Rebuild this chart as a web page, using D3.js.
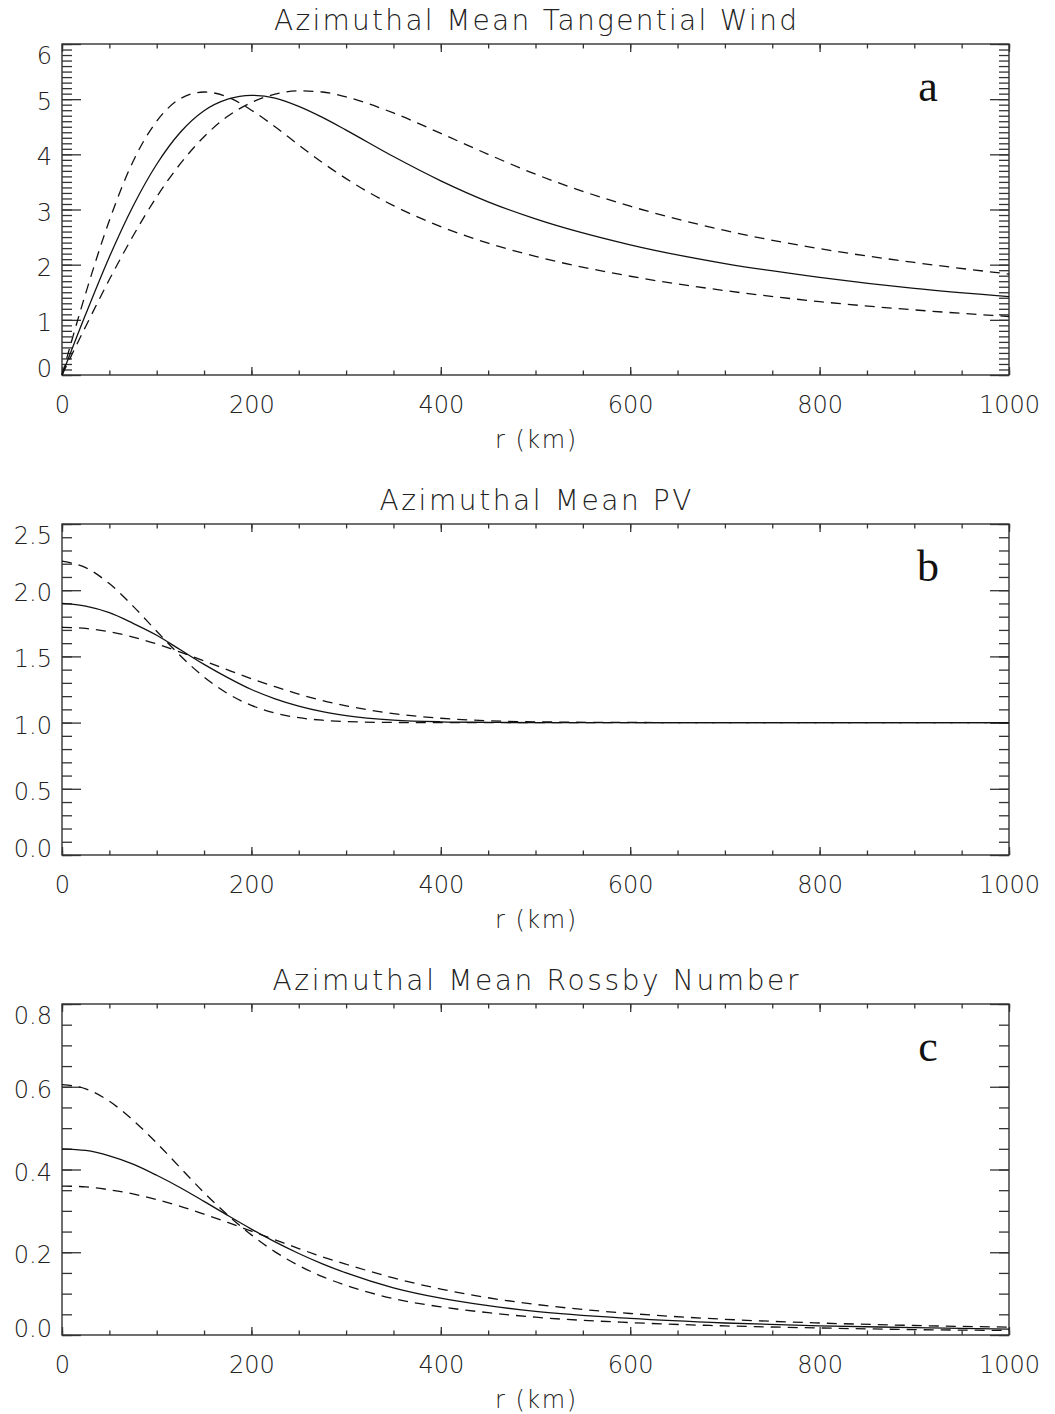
<!DOCTYPE html>
<html>
<head>
<meta charset="utf-8">
<script src="https://cdn.jsdelivr.net/npm/d3@7"></script>
<style>
  body { margin: 0; background: #fff; }
  svg { display: block; }
  .tick text { font-family: 'DejaVu Sans', sans-serif; font-weight: 200; font-size: 24px; fill: #222; }
  .title, .xlabel { font-family: 'DejaVu Sans', sans-serif; font-weight: 200; fill: #222; }
  .letter { font-family: 'Liberation Serif', serif; font-size: 44px; fill: #111; }
</style>
</head>
<body>
<svg id="chart" width="1055" height="1414"></svg>
<script>
const rKm = [0, 25, 50, 75, 100, 125, 150, 175, 200, 225, 250, 275, 300, 350, 400, 450, 500, 600, 700, 800, 900, 1000];

// panel a: azimuthal mean tangential wind
const windSolid = [0, 1.10, 2.14, 3.06, 3.82, 4.40, 4.79, 5.00, 5.07, 5.02, 4.87, 4.67, 4.44, 3.96, 3.52, 3.14, 2.83, 2.36, 2.02, 1.77, 1.57, 1.42];
const windNarrow = [0, 1.48, 2.80, 3.87, 4.60, 5.01, 5.13, 5.04, 4.80, 4.50, 4.17, 3.85, 3.56, 3.07, 2.69, 2.39, 2.15, 1.79, 1.53, 1.33, 1.18, 1.06];
const windWide = [0, 0.88, 1.73, 2.52, 3.23, 3.83, 4.32, 4.69, 4.94, 5.09, 5.15, 5.13, 5.04, 4.75, 4.38, 4.00, 3.64, 3.06, 2.62, 2.29, 2.04, 1.83];

// panel b: azimuthal mean PV
const pvSolid = [1.90, 1.88, 1.83, 1.75, 1.66, 1.55, 1.44, 1.34, 1.25, 1.18, 1.125, 1.083, 1.053, 1.019, 1.006, 1.002, 1.0, 1.0, 1.0, 1.0, 1.0, 1.0];
const pvNarrow = [2.22, 2.17, 2.05, 1.88, 1.69, 1.505, 1.344, 1.219, 1.13, 1.072, 1.037, 1.018, 1.008, 1.001, 1.0, 1.0, 1.0, 1.0, 1.0, 1.0, 1.0, 1.0];
const pvWide = [1.72, 1.711, 1.686, 1.646, 1.594, 1.532, 1.466, 1.398, 1.332, 1.271, 1.215, 1.167, 1.127, 1.068, 1.033, 1.014, 1.006, 1.001, 1.0, 1.0, 1.0, 1.0];

// panel c: azimuthal mean Rossby number
const roSolid = [0.450, 0.446, 0.433, 0.413, 0.386, 0.356, 0.323, 0.289, 0.256, 0.225, 0.197, 0.172, 0.150, 0.114, 0.089, 0.071, 0.057, 0.040, 0.029, 0.022, 0.018, 0.014];
const roNarrow = [0.605, 0.595, 0.565, 0.519, 0.464, 0.404, 0.344, 0.290, 0.242, 0.201, 0.168, 0.141, 0.120, 0.088, 0.068, 0.054, 0.043, 0.030, 0.022, 0.017, 0.013, 0.011];
const roWide = [0.360, 0.358, 0.351, 0.341, 0.327, 0.311, 0.292, 0.272, 0.251, 0.230, 0.209, 0.189, 0.171, 0.138, 0.111, 0.090, 0.074, 0.052, 0.038, 0.029, 0.023, 0.019];

// axis ticks
const xMajor = [0, 200, 400, 600, 800, 1000];
const xMinor = d3.range(0, 1001, 50);

const panels = [
  { title: 'Azimuthal Mean Tangential Wind', titleLen: 523, letter: 'a', yMax: 6,
    yMajor: [0, 1, 2, 3, 4, 5, 6], yMinorStep: 0.1, fmt: d3.format('d'),
    series: [windSolid, windNarrow, windWide] },
  { title: 'Azimuthal Mean PV', titleLen: 312, letter: 'b', yMax: 2.5,
    yMajor: [0, 0.5, 1.0, 1.5, 2.0, 2.5], yMinorStep: 0.1, fmt: d3.format('.1f'),
    series: [pvSolid, pvNarrow, pvWide] },
  { title: 'Azimuthal Mean Rossby Number', titleLen: 526, letter: 'c', yMax: 0.8,
    yMajor: [0, 0.2, 0.4, 0.6, 0.8], yMinorStep: 0.05, fmt: d3.format('.1f'),
    series: [roSolid, roNarrow, roWide] }
];

const svg = d3.select('#chart');
const left = 62, right = 1009, plotH = 331;
const axisColor = '#333';

const x = d3.scaleLinear().domain([0, 1000]).range([left, right]);

panels.forEach((p, i) => {
  const top = 44 + i * 480;
  const bottom = top + plotH;
  const y = d3.scaleLinear().domain([0, p.yMax]).range([bottom, top]);
  const yMinor = d3.range(0, p.yMax + 1e-9, p.yMinorStep);
  const g = svg.append('g');

  function styleAxis(sel) {
    sel.attr('font-family', null).attr('font-size', null);
    sel.selectAll('line').attr('stroke', axisColor).attr('stroke-width', 1.3);
    sel.selectAll('path').remove();
  }

  // x axes (bottom with labels, top without)
  g.append('g').attr('transform', `translate(0,${bottom})`)
    .call(d3.axisBottom(x).tickValues(xMinor).tickSize(-4.5).tickFormat('')).call(styleAxis);
  g.append('g').attr('transform', `translate(0,${bottom})`)
    .call(d3.axisBottom(x).tickValues(xMajor).tickSize(-8).tickPadding(21).tickFormat(d3.format('d'))).call(styleAxis);
  g.append('g').attr('transform', `translate(0,${top})`)
    .call(d3.axisTop(x).tickValues(xMinor).tickSize(-4.5).tickFormat('')).call(styleAxis);
  g.append('g').attr('transform', `translate(0,${top})`)
    .call(d3.axisTop(x).tickValues(xMajor).tickSize(-8).tickFormat('')).call(styleAxis);

  // y axes (left with labels, right without)
  g.append('g').attr('transform', `translate(${left},0)`)
    .call(d3.axisLeft(y).tickValues(yMinor).tickSize(-10).tickFormat('')).call(styleAxis);
  const yl = g.append('g').attr('transform', `translate(${left},0)`)
    .call(d3.axisLeft(y).tickValues(p.yMajor).tickSize(-19).tickPadding(10).tickFormat(p.fmt)).call(styleAxis);
  const nTick = p.yMajor.length;
  yl.selectAll('text')
    .attr('dy', null)
    .attr('dominant-baseline', 'central')
    .attr('y', (d, k) => k === 0 ? -6.5 : (k === nTick - 1 ? 11 : 2.5));
  g.append('g').attr('transform', `translate(${right},0)`)
    .call(d3.axisRight(y).tickValues(yMinor).tickSize(-10).tickFormat('')).call(styleAxis);
  g.append('g').attr('transform', `translate(${right},0)`)
    .call(d3.axisRight(y).tickValues(p.yMajor).tickSize(-19).tickFormat('')).call(styleAxis);

  // frame
  g.append('rect')
    .attr('x', left).attr('y', top)
    .attr('width', right - left).attr('height', plotH)
    .attr('fill', 'none').attr('stroke', axisColor).attr('stroke-width', 1.4);

  // curves
  const line = d3.line()
    .x((d, k) => x(rKm[k]))
    .y(d => y(d))
    .curve(d3.curveMonotoneX);

  p.series.forEach((vals, s) => {
    g.append('path')
      .datum(vals)
      .attr('d', line)
      .attr('fill', 'none')
      .attr('stroke', '#111')
      .attr('stroke-width', 1.3)
      .attr('stroke-dasharray', s === 0 ? null : '10,7');
  });

  // texts
  g.append('text').attr('class', 'title')
    .attr('x', (left + right) / 2).attr('y', top - 14)
    .attr('text-anchor', 'middle')
    .attr('font-size', 28)
    .attr('textLength', p.titleLen).attr('lengthAdjust', 'spacing')
    .text(p.title);

  g.append('text').attr('class', 'xlabel')
    .attr('x', (left + right) / 2).attr('y', bottom + 73)
    .attr('text-anchor', 'middle')
    .attr('font-size', 24)
    .attr('textLength', 81).attr('lengthAdjust', 'spacing')
    .text('r (km)');

  g.append('text').attr('class', 'letter')
    .attr('x', 928).attr('y', top + 57)
    .attr('text-anchor', 'middle')
    .text(p.letter);
});
</script>
</body>
</html>
